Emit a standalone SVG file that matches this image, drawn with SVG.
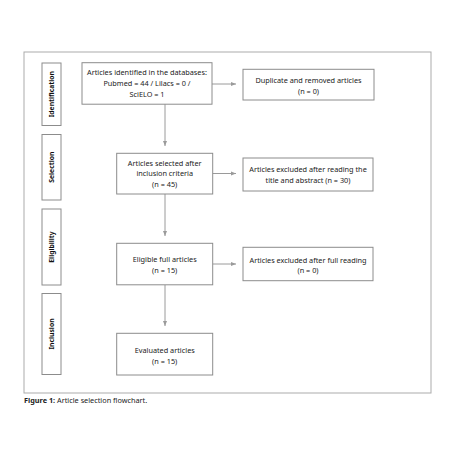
<svg xmlns="http://www.w3.org/2000/svg" width="450" height="450" viewBox="0 0 450 450">
<defs>
<style>
.frame{fill:none;stroke:#ababab;stroke-width:1}
.box{fill:#fff;stroke:#8c8c8c;stroke-width:1}
.t{font-family:"Noto Sans","Open Sans",sans-serif;font-size:7.3px;fill:#222;text-anchor:middle}
.side{font-family:"Noto Sans","Open Sans",sans-serif;font-size:6.8px;font-weight:bold;fill:#111;text-anchor:middle}
.cap{font-family:"Noto Sans","Open Sans",sans-serif;font-size:7.3px;fill:#222}
.arr{fill:none;stroke:#9a9a9a;stroke-width:1;marker-end:url(#ah)}
</style>
<marker id="ah" viewBox="0 0 10 10" refX="10" refY="5" markerWidth="5" markerHeight="5" markerUnits="userSpaceOnUse" orient="auto">
<path d="M0,1 L10,5 L0,9 z" fill="#9a9a9a"/>
</marker>
</defs>
<rect width="450" height="450" fill="#fff"/>
<rect class="frame" x="24" y="52" width="407" height="341"/>

<g id="side-identification"><rect class="box" x="42" y="63" width="19" height="62.5"/><text class="side" transform="translate(53.8,94.2) rotate(-90)">Identification</text></g>
<g id="side-selection"><rect class="box" x="42" y="134.5" width="19" height="65.5"/><text class="side" transform="translate(53.8,167.2) rotate(-90)">Selection</text></g>
<g id="side-eligibility"><rect class="box" x="42" y="209" width="19" height="76"/><text class="side" transform="translate(53.8,247) rotate(-90)">Eligibility</text></g>
<g id="side-inclusion"><rect class="box" x="42" y="293.5" width="19" height="81"/><text class="side" transform="translate(53.8,334) rotate(-90)">Inclusion</text></g>

<g id="connectors">
<path class="arr" d="M212,84 H236"/>
<path class="arr" d="M212.5,173.5 H236"/>
<path class="arr" d="M212.5,264 H236"/>
<path class="arr" d="M165,104 V146"/>
<path class="arr" d="M165,194 V236"/>
<path class="arr" d="M165,285 V326"/>
</g>

<g id="identified"><rect class="box" x="82" y="62.7" width="130" height="41.5"/>
<text class="t" x="147" y="74.5">Articles identified in the databases:</text>
<text class="t" x="147" y="85.5">Pubmed = 44 / Lilacs = 0 /</text>
<text class="t" x="147" y="96.5">SciELO = 1</text></g>

<g id="duplicate"><rect class="box" x="243" y="69.3" width="131" height="30.7"/>
<text class="t" x="308.5" y="82.5">Duplicate and removed articles</text>
<text class="t" x="308.5" y="94">(n = 0)</text></g>

<g id="selected"><rect class="box" x="116.7" y="153.3" width="96" height="40.7"/>
<text class="t" x="164.7" y="165.5">Articles selected after</text>
<text class="t" x="164.7" y="176">inclusion criteria</text>
<text class="t" x="164.7" y="186.5">(n = 45)</text></g>

<g id="excluded-title"><rect class="box" x="243" y="158" width="130" height="33"/>
<text class="t" x="308" y="171.7">Articles excluded after reading the</text>
<text class="t" x="308" y="182.5">title and abstract (n = 30)</text></g>

<g id="eligible"><rect class="box" x="116.7" y="243.3" width="96" height="41.5"/>
<text class="t" x="164.7" y="261.7">Eligible full articles</text>
<text class="t" x="164.7" y="272.5">(n = 15)</text></g>

<g id="excluded-full"><rect class="box" x="243" y="247.3" width="130" height="33.4"/>
<text class="t" x="308" y="262.5">Articles excluded after full reading</text>
<text class="t" x="308" y="273">(n = 0)</text></g>

<g id="evaluated"><rect class="box" x="116.7" y="333.3" width="96" height="41.7"/>
<text class="t" x="164.7" y="352.5">Evaluated articles</text>
<text class="t" x="164.7" y="363.5">(n = 15)</text></g>

<text class="cap" x="24" y="402.5"><tspan font-weight="bold">Figure 1:</tspan> Article selection flowchart.</text>
</svg>
